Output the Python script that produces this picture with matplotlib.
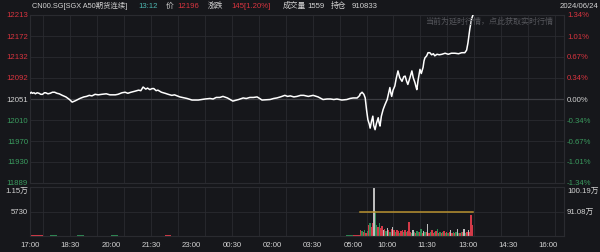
import matplotlib.pyplot as plt

# SGX A50 continuous futures, intraday (night 17:00-05:15, day 09:00-16:35)
prev_close = 12051
last_price = 12196
open_interest = 910833

price_times = ["17:00", "17:03", "17:05", "17:09", "17:12", "17:16", "17:20", "17:24", "17:28", "17:32",
               "17:35", "17:40", "17:45", "17:50", "17:55", "18:00", "18:05", "18:12",
               "18:20", "18:28", "18:34", "18:42", "18:51", "19:00", "19:06", "19:12", "19:18", "19:25",
               "19:32", "19:40", "19:50", "19:58",
               "20:10", "20:16", "20:25", "20:32", "20:38", "20:45", "20:54", "21:02", "21:07", "21:12",
               "21:18", "21:22", "21:27", "21:32", "21:36", "21:41", "21:45", "21:53", "22:01", "22:08",
               "22:16", "22:22", "22:28", "22:34", "22:39", "22:50", "23:01",
               "23:15", "23:30", "23:41", "23:48", "23:55", "00:03", "00:10", "00:20", "00:32", "00:45",
               "00:55", "01:02", "01:10", "01:18", "01:26", "01:30", "01:37", "01:55", "02:03", "02:10",
               "02:18", "02:28", "02:34", "02:40", "02:48", "02:55", "03:03", "03:10", "03:20", "03:31",
               "03:42", "03:53", "04:02", "04:10", "04:17", "04:24", "04:35", "04:46", "04:53", "05:00",
               "05:09", "05:15",
               "09:00", "09:05", "09:09", "09:12", "09:15", "09:18", "09:21", "09:23", "09:26", "09:29",
               "09:31", "09:34", "09:37", "09:41", "09:43", "09:45", "09:48", "09:52", "09:56", "10:01",
               "10:04", "10:07", "10:09", "10:11", "10:14", "10:18", "10:21", "10:25", "10:29", "10:34",
               "10:38", "10:41", "10:44", "10:47", "10:51", "10:56", "10:59", "11:03", "11:05", "11:07",
               "11:10", "11:14", "11:17", "11:21", "11:23", "11:25", "11:29", "11:32", "11:36", "11:40",
               "11:44", "11:47", "11:52", "11:57", "12:03", "12:10", "12:17", "12:24", "12:32", "12:40",
               "12:47", "12:54", "12:58", "13:01", "13:05", "13:09", "13:12"]
prices = [12062, 12064, 12062, 12063, 12061, 12063, 12062, 12060, 12060, 12063,
          12063, 12061, 12062, 12064, 12064, 12062, 12061, 12058,
          12055, 12050, 12045, 12048, 12052, 12055, 12056, 12058, 12057, 12060,
          12059, 12060, 12061, 12059,
          12059, 12060, 12063, 12064, 12062, 12064, 12066, 12068, 12067, 12074,
          12070, 12072, 12069, 12071, 12071, 12067, 12068, 12064, 12062, 12060,
          12058, 12059, 12057, 12055, 12054, 12052, 12049,
          12049, 12051, 12052, 12051, 12054, 12054, 12056, 12053, 12047, 12050,
          12053, 12052, 12054, 12054, 12055, 12053, 12049, 12050, 12052, 12053,
          12055, 12058, 12056, 12057, 12055, 12056, 12058, 12058, 12056, 12058,
          12055, 12050, 12051, 12051, 12050, 12051, 12049, 12050, 12052, 12053,
          12053, 12058,
          12060, 12064, 12060, 12053, 12030, 12011, 12003, 11995, 12008, 12018,
          12000, 11992, 12004, 12015, 12005, 11999, 12018, 12031, 12040, 12050,
          12062, 12073, 12063, 12056, 12068, 12076, 12090, 12105, 12092, 12085,
          12094, 12095, 12086, 12079, 12090, 12105, 12092, 12082, 12075, 12069,
          12088, 12108, 12100, 12112, 12124, 12130, 12134, 12140, 12140, 12136,
          12138, 12134, 12137, 12136, 12137, 12139, 12137, 12139, 12139, 12138,
          12140, 12140, 12145, 12159, 12185, 12205, 12212]

# volume, night session in 15 min bins, day session in 3 min bins
night_vol = [250, 120, 80, 200, 90, 60, 110, 150, 70, 90, 60, 80, 120, 70, 60, 90, 50, 70, 100, 60,
             180, 90, 70, 60, 80, 50, 60, 70, 90, 50, 60, 40, 70, 50, 60, 80, 40, 50, 60, 70,
             50, 60, 80, 50, 60, 70, 90, 120, 300]
night_col = "rrwgrgrgrggrgrgrgrgrrgrgrgrgrggrgrgrgrgrrgrgrgrgr"
day_vol = [1500, 1100, 900, 1300, 700, 1200, 2600, 3000, 2200, 3100,
           11400, 5900, 2600, 2000, 3100, 1800, 2300, 1500, 1700, 1200,
           1900, 1400, 1000, 1600, 2100, 1300, 900, 1400, 1200, 800,
           1100, 1500, 1000, 1300, 900, 1200, 3200, 1000, 800, 1500,
           900, 700, 1100, 900, 1000, 1700, 800, 1200, 900, 1000,
           2900, 800, 1000, 1500, 700, 900, 1200, 1700, 800, 1000,
           700, 900, 1100, 800, 1000, 700, 900, 1500, 800, 1000,
           700, 900, 1700, 800, 700, 900, 1000, 1700, 800, 900,
           1500, 1000, 4900, 2500]
day_col = "rgrgrgrgrrwggrgrrwrgwrgrwrgrrgrrgrgrrrgwgrggrgrwgrwrgrrgrgrgrgrgrgrwrgrgwgrgrwgrwrrr"

tick_labels = ["17:00", "18:30", "20:00", "21:30", "23:00", "00:30", "02:00", "03:30",
               "05:00", "10:00", "11:30", "13:00", "14:30", "16:00"]
price_ticks = [12213, 12172, 12132, 12092, 12051, 12010, 11970, 11930, 11889]
pct_labels = ["1.34%", "1.01%", "0.67%", "0.34%", "0.00%", "-0.34%", "-0.67%", "-1.01%", "-1.34%"]
vol_labels = ["1.15万", "5730"]
oi_labels = ["100.19万", "91.08万"]

BG = "#16171b"
GRID = "#2a2b30"
RED = "#d8343f"
GREEN = "#3a9a5e"
GRAY = "#bdbdbd"
TXT = "#d2d2d2"
bar_colors = {"r": "#d23a48", "g": "#2f8a55", "w": GRAY}

plt.rcParams['font.family'] = ['Liberation Sans', 'Noto Sans CJK SC', 'DejaVu Sans']


def to_idx(t):
    # minutes since 17:00 on the trading-time axis (overnight gap removed)
    h, m = map(int, t.split(":"))
    if h >= 17:
        return (h - 17) * 60 + m
    if h < 6:
        return (h + 7) * 60 + m
    return 735 + (h - 9) * 60 + m


TOTAL = 735 + 455
x_price = [to_idx(t) for t in price_times]

fig = plt.figure(figsize=(6, 2.53), dpi=100, facecolor=BG)
ax = fig.add_axes([30 / 600, 1 - 184 / 253, 534 / 600, 168 / 253], facecolor=BG)
axv = fig.add_axes([30 / 600, 1 - 237 / 253, 534 / 600, 49 / 253], facecolor=BG)

half = prev_close * 0.0134
for a in (ax, axv):
    a.set_xlim(0, TOTAL)
    for s in a.spines.values():
        s.set_color(GRID)
        s.set_linewidth(0.8)
    a.set_xticks([])
    a.set_yticks([])
    for k in range(20):
        a.axvline(30 + 60 * k, color=GRID, lw=0.6, zorder=0)

# price panel
ax.set_ylim(prev_close - half, prev_close + half)
for v in price_ticks:
    ax.axhline(v, color=GRID, lw=0.6, zorder=0)
ax.axhline(prev_close, color="#3c3d42", lw=0.9, zorder=1)
ax.plot(x_price, prices, color="white", lw=1.1, zorder=3)

lx = -2 / 534 * TOTAL
rx = TOTAL + 3 / 534 * TOTAL
for v, p in zip(price_ticks, pct_labels):
    c = RED if v > prev_close else (GREEN if v < prev_close else TXT)
    yv = v + 1.5 if v == price_ticks[-1] else v
    ax.text(lx, yv, str(v), color=c, fontsize=5.6, ha="right", va="center", clip_on=False)
    ax.text(rx, yv, p, color=c, fontsize=5.6, ha="left", va="center", clip_on=False)

ax.text(TOTAL * 0.86, prev_close + half * 0.93, "当前为延时行情，点此获取实时行情",
        color="#55565b", fontsize=5.8, ha="center", va="center")

# volume panel
vmax = 11460
axv.set_ylim(0, vmax)
axv.axhline(vmax / 2, color=GRID, lw=0.6, zorder=0)
nx = [15 * i + 7.5 for i in range(len(night_vol))]
axv.bar(nx, night_vol, width=15, color=[bar_colors[c] for c in night_col], linewidth=0, zorder=2)
dx = [735 + 3 * i + 1.5 for i in range(len(day_vol))]
axv.bar(dx, day_vol, width=3, color=[bar_colors[c] for c in day_col], linewidth=0, zorder=2)

axo = axv.twinx()
axo.set_ylim(2 * open_interest - 1001900, 1001900)
axo.set_yticks([])
for s in axo.spines.values():
    s.set_visible(False)
axo.plot([to_idx("09:00"), to_idx("13:12")], [open_interest, open_interest], color="#b8912f", lw=1.1)

vtop = vmax * 0.94
axv.text(lx, vtop, vol_labels[0], color=TXT, fontsize=5.6, ha="right", va="center", clip_on=False)
axv.text(lx, vmax / 2, vol_labels[1], color=TXT, fontsize=5.6, ha="right", va="center", clip_on=False)
axv.text(rx, vtop, oi_labels[0], color=TXT, fontsize=5.6, ha="left", va="center", clip_on=False)
axv.text(rx, vmax / 2, oi_labels[1], color=TXT, fontsize=5.6, ha="left", va="center", clip_on=False)

for lab in tick_labels:
    axv.text(to_idx(lab), -vmax * 0.18, lab, color=TXT, fontsize=5.6, ha="center", va="center", clip_on=False)

# header line
hy = 1 - 6 / 253
header = [(32, "CN00.SG[SGX A50期货连续]", TXT, 5.3), (138, "13:12", "#4db6b0", 5.6), (166, "价", TXT, 5.6),
          (177, str(last_price), RED, 5.6), (208, "涨跌", TXT, 5.6), (231, "145[1.20%]", RED, 5.6),
          (283, "成交量", TXT, 5.6), (307, "1559", TXT, 5.6), (331, "持仓", TXT, 5.6),
          (352, str(open_interest), TXT, 5.6)]
for px, s, c, fs in header:
    fig.text(px / 600, hy, s, color=c, fontsize=fs, ha="left", va="center")
fig.text(598 / 600, hy, "2024/06/24", color=TXT, fontsize=5.6, ha="right", va="center")

fig.savefig("out.png", dpi=100, facecolor=BG)
